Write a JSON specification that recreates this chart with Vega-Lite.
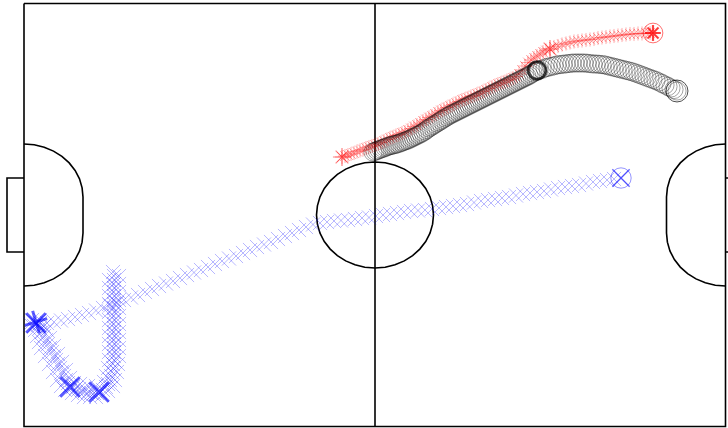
{
 "$schema": "https://vega.github.io/schema/vega-lite/v6.json",
 "width": 701.5,
 "height": 423,
 "autosize": {"type": "none"},
 "padding": {"left": 24, "top": 3.5, "right": 2.5, "bottom": 1.5},
 "config": {"view": {"stroke": null}},
 "datasets": {
  "pitch": [
   {"part":"border","i":0,"x":24,"y":3.5},{"part":"border","i":1,"x":725.5,"y":3.5},{"part":"border","i":2,"x":725.5,"y":426.5},{"part":"border","i":3,"x":24,"y":426.5},{"part":"border","i":4,"x":24,"y":3.5},
   {"part":"half","i":0,"x":375,"y":3.5},{"part":"half","i":1,"x":375,"y":426.5},
   {"part":"goalL","i":0,"x":24,"y":178},{"part":"goalL","i":1,"x":7,"y":178},{"part":"goalL","i":2,"x":7,"y":252},{"part":"goalL","i":3,"x":24,"y":252},
   {"part":"goalR","i":0,"x":725.5,"y":178},{"part":"goalR","i":1,"x":742,"y":178},{"part":"goalR","i":2,"x":742,"y":252},{"part":"goalR","i":3,"x":725.5,"y":252},
   {"part":"circle","i":0,"x":433.5,"y":215},{"part":"circle","i":1,"x":432.6,"y":224.2},{"part":"circle","i":2,"x":430,"y":233.1},{"part":"circle","i":3,"x":425.7,"y":241.5},{"part":"circle","i":4,"x":419.8,"y":249.1},{"part":"circle","i":5,"x":412.6,"y":255.6},{"part":"circle","i":6,"x":404.3,"y":260.9},{"part":"circle","i":7,"x":395,"y":264.8},{"part":"circle","i":8,"x":385.2,"y":267.2},{"part":"circle","i":9,"x":375,"y":268},
   {"part":"circle","i":10,"x":364.8,"y":267.2},{"part":"circle","i":11,"x":355,"y":264.8},{"part":"circle","i":12,"x":345.7,"y":260.9},{"part":"circle","i":13,"x":337.4,"y":255.6},{"part":"circle","i":14,"x":330.2,"y":249.1},{"part":"circle","i":15,"x":324.3,"y":241.5},{"part":"circle","i":16,"x":320,"y":233.1},{"part":"circle","i":17,"x":317.4,"y":224.2},{"part":"circle","i":18,"x":316.5,"y":215},
   {"part":"circle","i":19,"x":317.4,"y":205.8},{"part":"circle","i":20,"x":320,"y":196.9},{"part":"circle","i":21,"x":324.3,"y":188.5},{"part":"circle","i":22,"x":330.2,"y":180.9},{"part":"circle","i":23,"x":337.4,"y":174.4},{"part":"circle","i":24,"x":345.7,"y":169.1},{"part":"circle","i":25,"x":355,"y":165.2},{"part":"circle","i":26,"x":364.8,"y":162.8},{"part":"circle","i":27,"x":375,"y":162},
   {"part":"circle","i":28,"x":385.2,"y":162.8},{"part":"circle","i":29,"x":395,"y":165.2},{"part":"circle","i":30,"x":404.3,"y":169.1},{"part":"circle","i":31,"x":412.6,"y":174.4},{"part":"circle","i":32,"x":419.8,"y":180.9},{"part":"circle","i":33,"x":425.7,"y":188.5},{"part":"circle","i":34,"x":430,"y":196.9},{"part":"circle","i":35,"x":432.6,"y":205.8},{"part":"circle","i":36,"x":433.5,"y":215},
   {"part":"dL","i":0,"x":24,"y":144},{"part":"dL","i":1,"x":34.2,"y":144.8},{"part":"dL","i":2,"x":44.2,"y":147.2},{"part":"dL","i":3,"x":53.5,"y":151.1},{"part":"dL","i":4,"x":61.9,"y":156.4},{"part":"dL","i":5,"x":69.2,"y":162.9},{"part":"dL","i":6,"x":75.1,"y":170.5},{"part":"dL","i":7,"x":79.5,"y":178.9},{"part":"dL","i":8,"x":82.1,"y":187.8},{"part":"dL","i":9,"x":83,"y":197},{"part":"dL","i":10,"x":83,"y":233},{"part":"dL","i":11,"x":82.1,"y":242.2},{"part":"dL","i":12,"x":79.5,"y":251.1},{"part":"dL","i":13,"x":75.1,"y":259.5},{"part":"dL","i":14,"x":69.2,"y":267.1},{"part":"dL","i":15,"x":61.9,"y":273.6},{"part":"dL","i":16,"x":53.5,"y":278.9},{"part":"dL","i":17,"x":44.2,"y":282.8},{"part":"dL","i":18,"x":34.2,"y":285.2},{"part":"dL","i":19,"x":24,"y":286},
   {"part":"dR","i":0,"x":725.5,"y":144},{"part":"dR","i":1,"x":715.3,"y":144.8},{"part":"dR","i":2,"x":705.3,"y":147.2},{"part":"dR","i":3,"x":696,"y":151.1},{"part":"dR","i":4,"x":687.6,"y":156.4},{"part":"dR","i":5,"x":680.3,"y":162.9},{"part":"dR","i":6,"x":674.4,"y":170.5},{"part":"dR","i":7,"x":670,"y":178.9},{"part":"dR","i":8,"x":667.4,"y":187.8},{"part":"dR","i":9,"x":666.5,"y":197},{"part":"dR","i":10,"x":666.5,"y":233},{"part":"dR","i":11,"x":667.4,"y":242.2},{"part":"dR","i":12,"x":670,"y":251.1},{"part":"dR","i":13,"x":674.4,"y":259.5},{"part":"dR","i":14,"x":680.3,"y":267.1},{"part":"dR","i":15,"x":687.6,"y":273.6},{"part":"dR","i":16,"x":696,"y":278.9},{"part":"dR","i":17,"x":705.3,"y":282.8},{"part":"dR","i":18,"x":715.3,"y":285.2},{"part":"dR","i":19,"x":725.5,"y":286}
  ],
  "ball": [
   {"x":373,"y":152},{"x":375,"y":151.3},{"x":377,"y":150.5},{"x":379,"y":149.8},{"x":381,"y":149},{"x":383,"y":148.3},{"x":385,"y":147.5},{"x":387,"y":146.8},{"x":389,"y":146},{"x":391,"y":145.5},{"x":393,"y":145},{"x":395,"y":144.5},{"x":397,"y":144},{"x":399,"y":143.3},{"x":401,"y":142.5},{"x":403,"y":141.8},{"x":405,"y":141},{"x":407,"y":140.3},{"x":409,"y":139.5},{"x":411,"y":138.5},{"x":413,"y":137.5},{"x":415,"y":136.5},{"x":417,"y":135.5},{"x":419,"y":134.5},{"x":421,"y":133.5},{"x":423,"y":132.3},{"x":425,"y":131},{"x":427,"y":129.5},{"x":429,"y":128},{"x":431,"y":126.8},{"x":433,"y":125.5},{"x":435,"y":124.3},{"x":437,"y":123},{"x":439,"y":121.8},{"x":441,"y":120.5},{"x":443,"y":119.3},{"x":445,"y":118},{"x":447,"y":116.8},{"x":449,"y":115.5},{"x":451,"y":114.5},{"x":453,"y":113.5},{"x":455,"y":112.5},{"x":457,"y":111.5},{"x":459,"y":110.5},{"x":461,"y":109.5},{"x":463,"y":108.5},{"x":465,"y":107.5},{"x":467,"y":106.5},{"x":469,"y":105.5},{"x":471,"y":104.5},{"x":473,"y":103.5},{"x":475,"y":102.5},{"x":477,"y":101.5},{"x":479,"y":100.5},{"x":481,"y":99.5},{"x":483,"y":98.5},{"x":485,"y":97.5},{"x":487,"y":96.5},{"x":489,"y":95.5},{"x":491,"y":94.5},{"x":493,"y":93.5},{"x":495,"y":92.5},{"x":497,"y":91.5},{"x":499,"y":90.5},{"x":501,"y":89.5},{"x":503,"y":88.5},{"x":505,"y":87.5},{"x":507,"y":86.5},{"x":509,"y":85.5},{"x":511,"y":84.5},{"x":513,"y":83.5},{"x":515,"y":82.5},{"x":517,"y":81.5},{"x":519,"y":80.5},{"x":521,"y":79.5},{"x":523,"y":78.5},{"x":525,"y":77.5},{"x":527,"y":76.5},{"x":529,"y":75.5},{"x":531,"y":74.3},{"x":533,"y":73},{"x":535,"y":71.8},{"x":537,"y":70.5},
   {"x":539,"y":70},{"x":542,"y":69.3},{"x":545,"y":68},{"x":548,"y":67.3},{"x":551,"y":66.5},{"x":554,"y":65.8},{"x":557,"y":65},{"x":560,"y":64.6},{"x":563,"y":64.2},{"x":566,"y":63.9},{"x":569,"y":63.5},{"x":572,"y":63.1},{"x":575,"y":63},{"x":578,"y":63},{"x":581,"y":63},{"x":584,"y":63},{"x":587,"y":63.2},{"x":590,"y":63.6},{"x":593,"y":64},{"x":596,"y":64},{"x":599,"y":64.3},{"x":602,"y":64.6},{"x":605,"y":65},{"x":608,"y":65.8},{"x":611,"y":66.5},{"x":614,"y":67.3},{"x":617,"y":68},{"x":620,"y":68.8},{"x":623,"y":69.5},{"x":626,"y":70.3},{"x":629,"y":71},{"x":632,"y":71.8},{"x":635,"y":72.8},{"x":638,"y":73.9},{"x":641,"y":75},{"x":644,"y":76.1},{"x":647,"y":77.3},{"x":650,"y":78.4},{"x":653,"y":79.5},{"x":656,"y":80.6},{"x":659,"y":82},{"x":662,"y":83.5},{"x":665,"y":85},{"x":668,"y":86.5},{"x":671,"y":88},{"x":674,"y":89.5},{"x":677,"y":91}
  ],
  "ballMarks": [
   {"kind":"event","x":537,"y":70.5},{"kind":"now","x":677,"y":91}
  ],
  "red": [
   {"x":342,"y":157},{"x":345,"y":156},{"x":348,"y":155},{"x":351,"y":154},{"x":354,"y":153},{"x":357,"y":151.5},{"x":360,"y":150.5},{"x":363,"y":149.5},{"x":366,"y":148},{"x":369,"y":147},{"x":372,"y":146},{"x":375,"y":145},{"x":378,"y":144},{"x":381,"y":142.5},{"x":384,"y":141},{"x":387,"y":139.5},{"x":390,"y":138},{"x":393,"y":137},{"x":396,"y":135.5},{"x":399,"y":134.5},{"x":402,"y":133},{"x":405,"y":132},{"x":408,"y":130},{"x":411,"y":128.5},{"x":414,"y":126.5},{"x":417,"y":125},{"x":420,"y":123},{"x":423,"y":121},{"x":426,"y":119.5},{"x":429,"y":117.5},{"x":432,"y":116},{"x":435,"y":114},{"x":438,"y":112},{"x":441,"y":110.5},{"x":444,"y":109},{"x":447,"y":107.5},{"x":450,"y":106},{"x":453,"y":104.5},{"x":456,"y":103},{"x":459,"y":101.5},{"x":462,"y":100},{"x":465,"y":99},{"x":468,"y":98},{"x":471,"y":96.5},{"x":474,"y":95.5},{"x":477,"y":94},{"x":480,"y":93},{"x":483,"y":91.5},{"x":486,"y":90},{"x":489,"y":88.5},{"x":492,"y":87},{"x":495,"y":85.5},{"x":498,"y":84},{"x":501,"y":83},{"x":504,"y":82},{"x":507,"y":80.5},{"x":510,"y":79.5},{"x":513,"y":78},{"x":516,"y":76.5},{"x":519,"y":74},{"x":522,"y":70},{"x":525,"y":66},{"x":528,"y":62.5},{"x":531,"y":60},{"x":534,"y":58},{"x":537,"y":56},{"x":540,"y":54},{"x":543,"y":52},{"x":546,"y":50.5},{"x":550,"y":49},{"x":554,"y":47},{"x":558,"y":46},{"x":562,"y":44.5},{"x":566,"y":43.5},{"x":570,"y":42.5},{"x":574,"y":41.5},{"x":578,"y":41},{"x":582,"y":40.5},{"x":586,"y":40},{"x":590,"y":39.5},{"x":594,"y":39},{"x":598,"y":38},{"x":602,"y":37.5},{"x":606,"y":37},{"x":610,"y":36.5},{"x":614,"y":36},{"x":618,"y":35.5},{"x":622,"y":35},{"x":626,"y":34.5},{"x":630,"y":34},{"x":634,"y":34},{"x":638,"y":33.5},{"x":642,"y":33.5},{"x":646,"y":33},{"x":650,"y":33},{"x":653,"y":33}
  ],
  "redMarks": [
   {"kind":"event","x":342,"y":157},{"kind":"event","x":550,"y":49},{"kind":"now","x":653,"y":33}
  ],
  "blue": [
   {"x":621,"y":178},{"x":614,"y":179},{"x":607,"y":180},{"x":600,"y":181},{"x":593,"y":182},{"x":586,"y":183.5},{"x":579,"y":185},{"x":572,"y":186},{"x":565,"y":187},{"x":558,"y":188},{"x":551,"y":189.5},{"x":544,"y":191},{"x":537,"y":192},{"x":530,"y":193},{"x":523,"y":194},{"x":516,"y":195.5},{"x":509,"y":197},{"x":502,"y":198},{"x":495,"y":199},{"x":488,"y":200},{"x":481,"y":201},{"x":474,"y":202.5},{"x":467,"y":204},{"x":460,"y":205},{"x":453,"y":206},{"x":446,"y":207},{"x":439,"y":208},{"x":432,"y":209},{"x":425,"y":210},{"x":418,"y":210.5},{"x":411,"y":211},{"x":404,"y":212},{"x":397,"y":213},{"x":390,"y":214},{"x":383,"y":215},{"x":376,"y":216},{"x":369,"y":217.5},{"x":362,"y":218},{"x":355,"y":219},{"x":348,"y":220},{"x":341,"y":220.5},{"x":334,"y":221},{"x":327,"y":222},{"x":320,"y":223},{"x":313,"y":224.5},{"x":306,"y":227},{"x":299,"y":230},{"x":292,"y":233},{"x":285,"y":236},{"x":278,"y":239},{"x":271,"y":242},{"x":264,"y":244.5},{"x":257,"y":247},{"x":250,"y":250},{"x":243,"y":253},{"x":236,"y":256},{"x":229,"y":258.5},{"x":222,"y":261},{"x":215,"y":264},{"x":208,"y":267},{"x":201,"y":270},{"x":194,"y":272.5},{"x":187,"y":275},{"x":180,"y":278},{"x":173,"y":281},{"x":166,"y":283.5},{"x":159,"y":286},{"x":152,"y":289},{"x":145,"y":292},{"x":138,"y":295},{"x":131,"y":297.5},{"x":124,"y":300},{"x":117,"y":303},{"x":110,"y":305.5},{"x":103,"y":308},{"x":96,"y":310.5},{"x":89,"y":313},{"x":82,"y":315},{"x":75,"y":317},{"x":68,"y":319},{"x":61,"y":320.5},{"x":54,"y":322},{"x":47,"y":323},{"x":40,"y":323},
   {"x":36,"y":323},{"x":38,"y":325},{"x":40,"y":328},{"x":42,"y":332},{"x":44,"y":336},{"x":46,"y":340},{"x":48,"y":344},{"x":50,"y":348},{"x":52,"y":352},{"x":54,"y":356},{"x":56,"y":360},{"x":58,"y":364},{"x":60,"y":368},{"x":62,"y":372},{"x":64,"y":376},{"x":66,"y":380},{"x":68,"y":383},{"x":70,"y":386},{"x":73,"y":387},{"x":76,"y":388},{"x":79,"y":389},{"x":82,"y":390},{"x":85,"y":391},{"x":88,"y":392},{"x":91,"y":393},{"x":94,"y":393},{"x":97,"y":393},{"x":100,"y":392},{"x":103,"y":390},{"x":106,"y":387},{"x":108,"y":384},{"x":110,"y":380},{"x":111,"y":376},{"x":112,"y":372},{"x":113,"y":368},{"x":113,"y":364},{"x":114,"y":360},{"x":114,"y":356},{"x":114,"y":352},{"x":114,"y":348},{"x":114,"y":344},{"x":114,"y":340},{"x":114,"y":336},{"x":114,"y":332},{"x":114,"y":328},{"x":114,"y":324},{"x":114,"y":320},{"x":114,"y":316},{"x":114,"y":312},{"x":114,"y":308},{"x":114,"y":304},{"x":114,"y":300},{"x":114,"y":296},{"x":114,"y":292},{"x":114,"y":288},{"x":114,"y":284},{"x":114,"y":280},{"x":114,"y":276},{"x":113,"y":272},
   {"x":109,"y":280},{"x":109,"y":288},{"x":109,"y":296},{"x":109,"y":304},{"x":109,"y":312},{"x":109,"y":320},{"x":109,"y":328},{"x":109,"y":336},{"x":109,"y":344},{"x":109,"y":352},{"x":109,"y":360},{"x":108,"y":368},{"x":106,"y":376},
   {"x":119,"y":276},{"x":119,"y":284},{"x":119,"y":292},{"x":119,"y":300},{"x":119,"y":308},{"x":119,"y":316},{"x":119,"y":324},{"x":119,"y":332},{"x":119,"y":340},{"x":119,"y":348},{"x":119,"y":356},{"x":118,"y":364},{"x":117,"y":372},{"x":115,"y":380},
   {"x":35,"y":330},{"x":37,"y":336},{"x":39,"y":342},{"x":41,"y":348},{"x":45,"y":356},{"x":49,"y":364},{"x":53,"y":372},{"x":57,"y":380},{"x":61,"y":386},{"x":65,"y":390},
   {"x":47,"y":330},{"x":50,"y":338},{"x":54,"y":346},{"x":58,"y":354},{"x":62,"y":362},{"x":66,"y":370},{"x":70,"y":378},{"x":74,"y":383},
   {"x":72,"y":393},{"x":78,"y":395},{"x":84,"y":397},{"x":90,"y":397},{"x":96,"y":397},{"x":102,"y":395},{"x":108,"y":391},{"x":113,"y":386},
   {"x":80,"y":384},{"x":88,"y":386},{"x":96,"y":386},{"x":104,"y":382},
   {"x":32,"y":320},{"x":34,"y":326},{"x":30,"y":324},{"x":40,"y":320},{"x":44,"y":326}
  ],
  "blueMarks": [
   {"kind":"event","x":36,"y":323},{"kind":"event","x":70,"y":387},{"kind":"event","x":99,"y":392},{"kind":"turn","x":36,"y":322},{"kind":"now","x":621,"y":178}
  ]
 },
 "encoding": {
  "x": {"field": "x", "type": "quantitative", "scale": {"domain": [24, 725.5], "nice": false, "zero": false}, "axis": null},
  "y": {"field": "y", "type": "quantitative", "scale": {"domain": [3.5, 426.5], "reverse": true, "nice": false, "zero": false}, "axis": null}
 },
 "layer": [
  {
   "data": {"name": "pitch"},
   "mark": {"type": "line", "stroke": "black", "strokeWidth": 1.6, "interpolate": "linear", "clip": false},
   "encoding": {"detail": {"field": "part"}, "order": {"field": "i", "type": "quantitative"}}
  },
  {
   "data": {"name": "red"},
   "mark": {"type": "point", "shape": "M-1,0L1,0M0,-1L0,1M-0.7,-0.7L0.7,0.7M-0.7,0.7L0.7,-0.7", "filled": false, "color": "#ff0000", "strokeWidth": 1, "strokeOpacity": 0.45, "size": 200}
  },
  {
   "data": {"name": "redMarks"},
   "transform": [{"filter": "datum.kind == 'event'"}],
   "mark": {"type": "point", "shape": "M-1,0L1,0M0,-1L0,1M-0.7,-0.7L0.7,0.7M-0.7,0.7L0.7,-0.7", "filled": false, "color": "#ff0000", "strokeWidth": 1.2, "strokeOpacity": 0.7, "size": 330}
  },
  {
   "data": {"name": "ball"},
   "mark": {"type": "point", "shape": "circle", "filled": false, "color": "black", "strokeWidth": 0.8, "strokeOpacity": 0.65, "size": 330}
  },
  {
   "data": {"name": "ballMarks"},
   "transform": [{"filter": "datum.kind == 'event'"}],
   "mark": {"type": "point", "shape": "circle", "filled": false, "color": "black", "strokeWidth": 3, "size": 314}
  },
  {
   "data": {"name": "ballMarks"},
   "transform": [{"filter": "datum.kind == 'now'"}],
   "mark": {"type": "point", "shape": "circle", "filled": false, "color": "black", "strokeWidth": 1, "size": 480}
  },
  {
   "data": {"name": "redMarks"},
   "transform": [{"filter": "datum.kind == 'now'"}],
   "mark": {"type": "point", "shape": "M-1,0L1,0M0,-1L0,1M-0.7,-0.7L0.7,0.7M-0.7,0.7L0.7,-0.7", "filled": false, "color": "#ff0000", "strokeWidth": 2.2, "size": 250}
  },
  {
   "data": {"name": "redMarks"},
   "transform": [{"filter": "datum.kind == 'now'"}],
   "mark": {"type": "point", "shape": "circle", "filled": false, "color": "#ff0000", "strokeWidth": 1, "strokeOpacity": 0.8, "size": 390}
  },
  {
   "data": {"name": "blue"},
   "mark": {"type": "point", "shape": "M-1,-1L1,1M-1,1L1,-1", "filled": false, "color": "#0000ff", "strokeWidth": 1, "strokeOpacity": 0.4, "size": 200}
  },
  {
   "data": {"name": "blueMarks"},
   "transform": [{"filter": "datum.kind == 'event'"}],
   "mark": {"type": "point", "shape": "M-1,-1L1,1M-1,1L1,-1", "filled": false, "color": "#0000ff", "strokeWidth": 3, "strokeOpacity": 0.9, "size": 380}
  },
  {
   "data": {"name": "blueMarks"},
   "transform": [{"filter": "datum.kind == 'turn'"}],
   "mark": {"type": "point", "shape": "M-0.3,-1L0.3,1M-1,0.3L1,-0.3", "filled": false, "color": "#0000ff", "strokeWidth": 3, "strokeOpacity": 0.9, "size": 500}
  },
  {
   "data": {"name": "blueMarks"},
   "transform": [{"filter": "datum.kind == 'now'"}],
   "mark": {"type": "point", "shape": "M-1,-1L1,1M-1,1L1,-1", "filled": false, "color": "#0000ff", "strokeWidth": 1.5, "strokeOpacity": 0.8, "size": 300}
  },
  {
   "data": {"name": "blueMarks"},
   "transform": [{"filter": "datum.kind == 'now'"}],
   "mark": {"type": "point", "shape": "circle", "filled": false, "color": "#0000ff", "strokeWidth": 1, "strokeOpacity": 0.6, "size": 415}
  }
 ]
}
